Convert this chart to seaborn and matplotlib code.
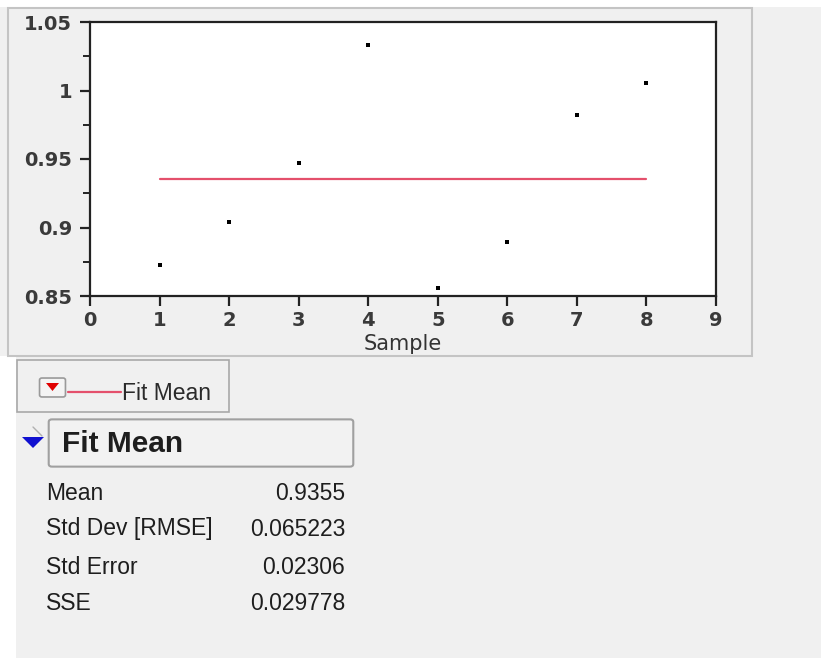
import matplotlib
matplotlib.use("Agg")
import matplotlib.pyplot as plt
import seaborn as sns
import pandas as pd
from matplotlib.patches import Rectangle, FancyBboxPatch, Polygon
from matplotlib.ticker import MultipleLocator, FixedLocator

# data
samples = [1, 2, 3, 4, 5, 6, 7, 8]
values = [0.8725, 0.9039, 0.9473, 1.0333, 0.8559, 0.8892, 0.9821, 1.0056]
mean_value = 0.9355
y_ticks = [0.85, 0.9, 0.95, 1.0, 1.05]
y_tick_labels = ["0.85", "0.9", "0.95", "1", "1.05"]
x_ticks = [0, 1, 2, 3, 4, 5, 6, 7, 8, 9]
stat_names = ["Mean", "Std Dev [RMSE]", "Std Error", "SSE"]
stat_values = ["0.9355", "0.065223", "0.02306", "0.029778"]

sns.set_style("white")
plt.rcParams["font.family"] = ["Liberation Sans", "DejaVu Sans"]

W, H = 821, 658
fig = plt.figure(figsize=(W / 100, H / 100), dpi=100, facecolor="#f0f0f0")


def fx(px):
    return px / W


def fy(py):
    return 1 - py / H


# white margins and the gray panel frame
fig.patches.append(Rectangle((0, fy(7)), 1, 7 / H, transform=fig.transFigure,
                             facecolor="white", edgecolor="none", zorder=0))
fig.patches.append(Rectangle((0, 0), fx(16), fy(356), transform=fig.transFigure,
                             facecolor="white", edgecolor="none", zorder=0))
fig.patches.append(Rectangle((fx(8), fy(356)), fx(752 - 8), (356 - 8) / H,
                             transform=fig.transFigure, facecolor="#f0f0f0",
                             edgecolor="#c4c4c4", linewidth=1.5, zorder=0))

# main plot
ax = fig.add_axes([fx(90), fy(296), fx(716 - 90), (296 - 22) / H])
ax.set_zorder(5)
ax.set_facecolor("white")
df = pd.DataFrame({"Sample": samples, "Value": values})
sns.scatterplot(data=df, x="Sample", y="Value", ax=ax, color="black",
                marker="s", s=10, linewidth=0, zorder=3)
mean_df = pd.DataFrame({"Sample": [samples[0], samples[-1]],
                        "Value": [mean_value, mean_value]})
sns.lineplot(data=mean_df, x="Sample", y="Value", ax=ax, color="#e4506c",
             linewidth=1.6, zorder=2)

ax.set_xlim(0, 9)
ax.set_ylim(0.85, 1.05)
ax.xaxis.set_major_locator(FixedLocator(x_ticks))
ax.yaxis.set_major_locator(FixedLocator(y_ticks))
ax.yaxis.set_minor_locator(MultipleLocator(0.025))
ax.set_yticklabels(y_tick_labels)
ax.set_xticklabels([str(t) for t in x_ticks])
for sp in ax.spines.values():
    sp.set_visible(True)
    sp.set_color("#222222")
    sp.set_linewidth(1.6)
ax.tick_params(axis="both", which="major", direction="out", length=7,
               width=1.6, color="#222222", labelsize=14, labelcolor="#3a3a3a")
ax.tick_params(axis="x", which="major", pad=4, bottom=True)
ax.tick_params(axis="y", which="major", pad=6, left=True)
ax.tick_params(axis="y", which="minor", direction="out", length=5,
               width=1.4, color="#222222", left=True)
for lbl in ax.get_xticklabels() + ax.get_yticklabels():
    lbl.set_fontweight("bold")
    lbl.set_family("DejaVu Sans")
ax.set_xlabel("Sample", fontsize=15, color="#333333", labelpad=3,
              family="DejaVu Sans")
ax.set_ylabel("")

# legend box
fig.patches.append(Rectangle((fx(17), fy(412)), fx(229 - 17), (412 - 360) / H,
                             transform=fig.transFigure, facecolor="#f0f0f0",
                             edgecolor="#a8a8a8", linewidth=1.2, zorder=1))
fig.patches.append(FancyBboxPatch((fx(42), fy(395)), fx(21), 15 / H,
                                  boxstyle="round,pad=0.003",
                                  transform=fig.transFigure, facecolor="#f4f4f4",
                                  edgecolor="#9a9a9a", linewidth=1.2, zorder=2))
fig.patches.append(Polygon([(fx(46), fy(383)), (fx(59), fy(383)), (fx(52.5), fy(391))],
                           closed=True, transform=fig.transFigure,
                           facecolor="#e00000", edgecolor="none", zorder=3))
fig.lines.append(plt.Line2D([fx(68), fx(121)], [fy(392), fy(392)],
                            transform=fig.transFigure, color="#e4506c",
                            linewidth=1.6))
fig.text(fx(122), fy(393), "Fit Mean", fontsize=16.5, color="#2a2a2a",
         va="center", ha="left")

# outline header
fig.lines.append(plt.Line2D([fx(33), fx(42)], [fy(427), fy(436)],
                            transform=fig.transFigure, color="#b0b0b0",
                            linewidth=1.0))
fig.patches.append(Polygon([(fx(22), fy(437)), (fx(44), fy(437)), (fx(33), fy(448))],
                           closed=True, transform=fig.transFigure,
                           facecolor="#1010d0", edgecolor="none", zorder=3))
fig.patches.append(FancyBboxPatch((fx(52), fy(464)), fx(298), 42 / H,
                                  boxstyle="round,pad=0.004",
                                  transform=fig.transFigure, facecolor="#f2f2f2",
                                  edgecolor="#a0a0a0", linewidth=1.5, zorder=2))
fig.text(fx(62), fy(444), "Fit Mean", fontsize=21.5, fontweight="bold",
         color="#1e1e1e", va="center", ha="left")

# stats table
row_y = [493, 529, 567, 603]
for name, val, y in zip(stat_names, stat_values, row_y):
    fig.text(fx(46), fy(y), name, fontsize=16.5, color="#1e1e1e",
             va="center", ha="left")
    fig.text(fx(345), fy(y), val, fontsize=16.5, color="#1e1e1e",
             va="center", ha="right")

fig.savefig("out.png", dpi=100, facecolor=fig.get_facecolor())
